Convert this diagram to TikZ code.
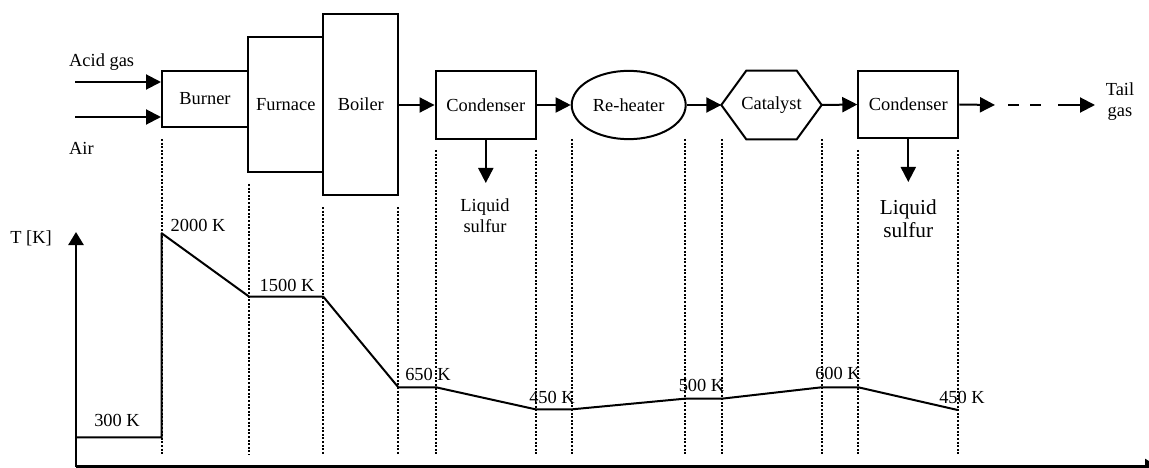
\documentclass[tikz,border=0pt]{standalone}
\usepackage{fontspec}
\setmainfont{Liberation Serif}
\usetikzlibrary{arrows.meta,shapes.geometric,calc}
\begin{document}
\begin{tikzpicture}[x=1pt,y=-1pt,
  font=\fontsize{18.4}{21}\selectfont,
  box/.style={draw,line width=2pt,inner sep=0pt},
  arr/.style={line width=2pt,-{Triangle[length=15pt,width=15pt]}},
  dotline/.style={line width=2pt,dash pattern=on 2pt off 1.6pt},
  curve/.style={line width=2pt,line join=round},
  axis/.style={line width=2.6pt,-{Triangle[length=13pt,width=15pt]}},
  lbl/.style={inner sep=0pt}]
\useasboundingbox (0,0) rectangle (1149,468);
% process units
\node[box,minimum width=86pt,minimum height=56pt] (burner) at (205,99) {Burner};
\node[box,minimum width=75pt,minimum height=135pt] (furnace) at (285.8,104.5) {Furnace};
\node[box,minimum width=75pt,minimum height=181pt] (boiler) at (360.8,104.5) {Boiler};
\node[box,minimum width=100.5pt,minimum height=68.3pt] (cond1) at (485.8,105) {Condenser};
\node[box,ellipse,minimum width=114pt,minimum height=68.3pt] (reh) at (628.7,105) {Re-heater};
\node[inner sep=0pt,minimum width=100pt,minimum height=68.3pt] (cat) at (771.5,105) {Catalyst};
\draw[line width=2pt,line join=miter] (cat.west) -- ($(cat.north west)+(25,0)$) -- ($(cat.north east)+(-25,0)$)
  -- (cat.east) -- ($(cat.south east)+(-25,0)$) -- ($(cat.south west)+(25,0)$) -- cycle;
\node[box,minimum width=100pt,minimum height=67.6pt] (cond2) at (908.3,104.5) {Condenser};
% inputs
\node[lbl,anchor=west] (acid) at (69,62) {Acid gas};
\node[lbl,anchor=west] (airl) at (69,148) {Air};
\coordinate (ag) at (75,82);
\coordinate (ai) at (75,117);
\draw[arr] (ag) -- (ag -| burner.west);
\draw[arr] (ai) -- (ai -| burner.west);
% main flow
\draw[arr] (boiler.east |- cond1.west) -- (cond1.west);
\draw[arr] (cond1.east) -- (reh.west);
\draw[arr] (reh.east) -- (cat.west);
\draw[arr] (cat.east) -- (cond2.west);
\coordinate (o1) at (995,105);
\coordinate (d1) at (1008,105);
\coordinate (d2) at (1049,105);
\coordinate (o2) at (1058,105);
\coordinate (o3) at (1095,105);
\draw[arr] (cond2.east) -- (o1);
\draw[line width=2pt,dash pattern=on 11pt off 11pt] (d1) -- (d2);
\draw[arr] (o2) -- (o3);
\node[lbl,align=center] (tail) at (1120,102) {Tail\\gas};
% liquid sulfur outputs
\coordinate (ls1a) at (cond1.south |- 0,183);
\draw[arr] (cond1.south) -- (ls1a);
\node[lbl,align=center] (ls1) at (485,216) {Liquid\\sulfur};
\coordinate (ls2a) at (cond2.south |- 0,182);
\draw[arr] (cond2.south) -- (ls2a);
\node[lbl,align=center,font=\fontsize{21.3}{23.5}\selectfont] (ls2) at (908.3,218.5) {Liquid\\sulfur};
% dotted guide lines
\foreach \x/\t in {161.7/139,249.2/184,323.3/207,398.3/207,436/150,535.5/150,572.3/139,684.5/139,721.7/139,821.5/139,858.3/150,958/150}
  \draw[dotline] (\x,\t) -- (\x,455);
% axes
\coordinate (org) at (76,466.5);
\coordinate (ytip) at (76,232);
\coordinate (xtip) at (1158,466.5);
\draw[axis] (org) -- (ytip);
\draw[axis] (org) -- (xtip);
\node[lbl] (tk) at (31,238) {T [K]};
% temperature profile
\draw[curve] (76,437.3) -- (161.7,437.3) -- (161.7,233.3) -- (249.2,296.7) -- (323.3,296.7)
  -- (398.3,387.3) -- (436,387.3) -- (535.5,409.3) -- (572.3,409.3) -- (684.5,398.7)
  -- (721.7,398.7) -- (821.5,387.3) -- (858.3,387.3) -- (957.7,410);
\node[lbl] (t300) at (117,420) {300 K};
\node[lbl] (t2000) at (198,225) {2000 K};
\node[lbl] (t1500) at (287,285) {1500 K};
\node[lbl] (t650) at (428,374) {650 K};
\node[lbl] (t450a) at (552,397.7) {450 K};
\node[lbl] (t500) at (701.5,385) {500 K};
\node[lbl] (t600) at (838,373.3) {600 K};
\node[lbl] (t450b) at (962,397.7) {450 K};
\end{tikzpicture}
\end{document}
